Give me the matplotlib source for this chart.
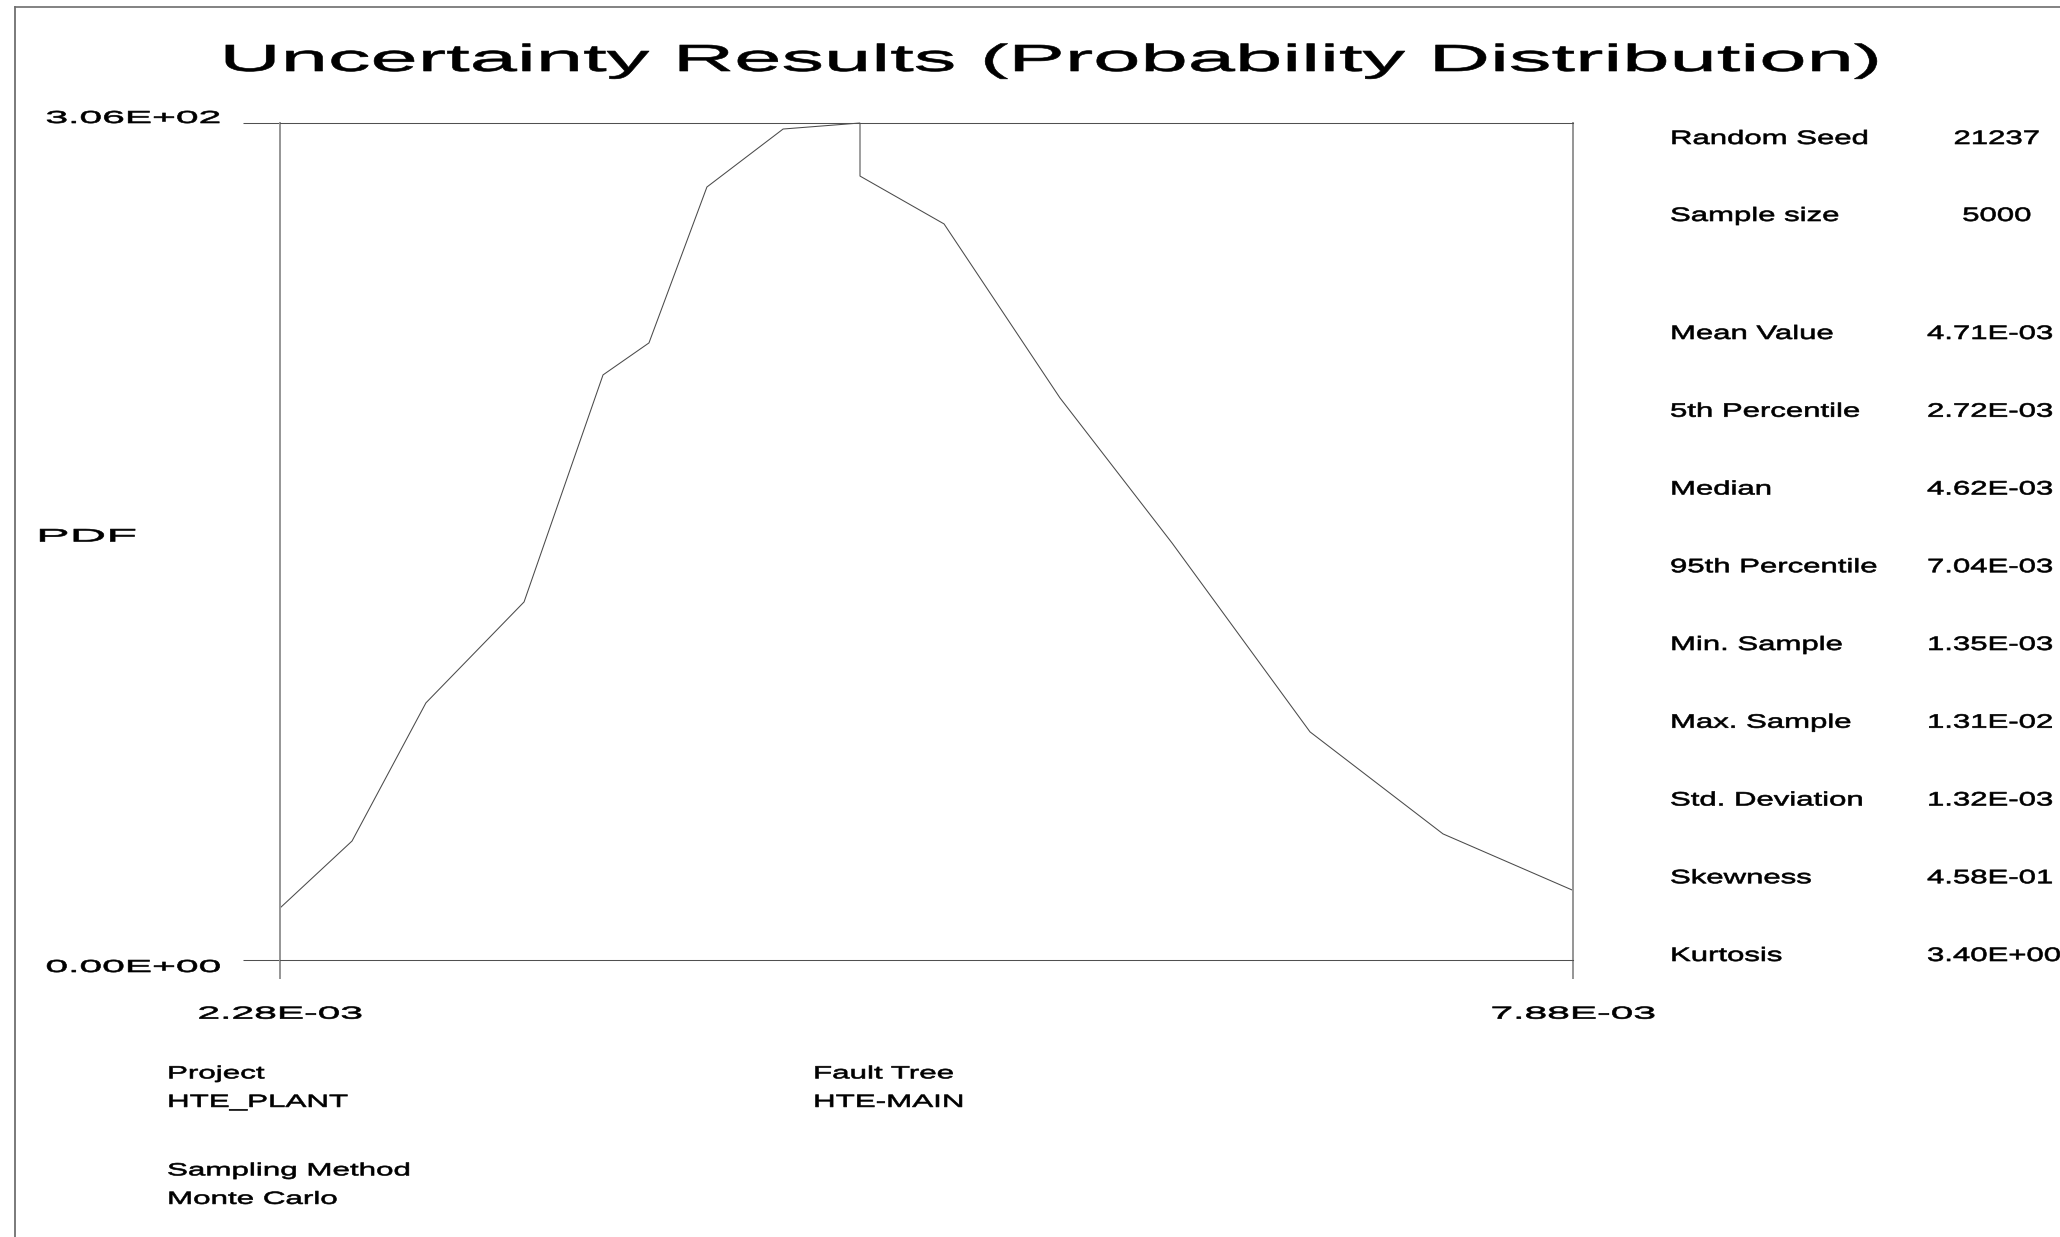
import matplotlib
matplotlib.use("Agg")
import matplotlib.pyplot as plt
from matplotlib.lines import Line2D
from matplotlib.patheffects import AbstractPathEffect
from matplotlib.transforms import Affine2D

plt.rcParams["font.family"] = ["Liberation Sans", "DejaVu Sans"]

# ---------------------------------------------------------------- data
pdf_x = [2.280e-3, 2.592e-3, 2.912e-3, 3.337e-3, 3.679e-3, 3.878e-3,
         4.129e-3, 4.459e-3, 4.792e-3, 4.792e-3, 5.156e-3, 5.658e-3,
         6.143e-3, 6.741e-3, 7.317e-3, 7.876e-3]
pdf_y = [19.0, 43.5, 94.0, 130.9, 213.9, 225.6,
         282.6, 303.8, 306.0, 286.6, 269.1, 205.5,
         152.5, 83.4, 46.1, 25.6]

x_ticks = [2.28e-3, 7.88e-3]
x_tick_labels = ["2.28E-03", "7.88E-03"]
y_ticks = [0.0, 306.0]
y_tick_labels = ["0.00E+00", "3.06E+02"]

run_names = ["Random Seed", "Sample size"]
run_values = ["21237", "5000"]

stat_names = ["Mean Value", "5th Percentile", "Median", "95th Percentile",
              "Min. Sample", "Max. Sample", "Std. Deviation", "Skewness",
              "Kurtosis"]
stat_values = ["4.71E-03", "2.72E-03", "4.62E-03", "7.04E-03", "1.35E-03",
               "1.31E-02", "1.32E-03", "4.58E-01", "3.40E+00"]

info_titles = ["Project", "Fault Tree", "Sampling Method"]
info_values = ["HTE_PLANT", "HTE-MAIN", "Monte Carlo"]

# ---------------------------------------------------------------- helpers
W, H = 2060, 1237


def fxy(x, y):
    """Pixel position (origin top-left) -> figure fraction."""
    return x / W, 1 - y / H


class Widen(AbstractPathEffect):
    """Draw a text's glyphs stretched horizontally about its anchor point,
    with a hairline outline to give the wide face a little more weight."""

    def __init__(self, text, factor, weight=0.45):
        super().__init__()
        self._text = text
        self._factor = factor
        self._weight = weight

    def draw_path(self, renderer, gc, tpath, affine, rgbFace=None):
        x0 = self._text.get_transform().transform(self._text.get_position())[0]
        stretch = (Affine2D().translate(-x0, 0)
                   .scale(self._factor, 1).translate(x0, 0))
        gc0 = renderer.new_gc()
        gc0.copy_properties(gc)
        if rgbFace is not None:
            gc0.set_foreground(rgbFace)
        gc0.set_linewidth(self._weight)
        renderer.draw_path(gc0, tpath, affine + stretch, rgbFace)
        gc0.restore()


def widen(text, factor):
    text.set_path_effects([Widen(text, factor)])
    return text


# ---------------------------------------------------------------- figure
fig = plt.figure(figsize=(W / 100, H / 100), dpi=100, facecolor="white")

ax_l, ax_r, ax_t, ax_b = 280, 1573, 123, 960
ax = fig.add_axes([ax_l / W, 1 - ax_b / H, (ax_r - ax_l) / W, (ax_b - ax_t) / H])
ax.set_facecolor("white")

ax.plot(pdf_x, pdf_y, color="#4a4a4a", lw=0.75, solid_joinstyle="miter",
        clip_on=False)
ax.set_xlim(x_ticks[0], x_ticks[-1])
ax.set_ylim(y_ticks[0], y_ticks[-1])

for side in ("top", "bottom"):
    ax.spines[side].set_color("#505050")
    ax.spines[side].set_linewidth(0.75)
for side in ("left", "right"):
    ax.spines[side].set_color("#959595")
    ax.spines[side].set_linewidth(1.4)

ax.set_xticks(x_ticks, x_tick_labels)
ax.set_yticks(y_ticks, y_tick_labels)
ax.tick_params(axis="y", direction="out", length=26.6, width=0.75,
               color="#505050", pad=15.8, labelsize=12.5, labelcolor="black")
ax.tick_params(axis="x", direction="out", length=13.7, width=1.4,
               color="#959595", pad=19.9, labelsize=12.5, labelcolor="black")

ylabels = ax.get_yticklabels()
ylabels[0].set_va("top")
ylabels[1].set_va("baseline")
for lab in ylabels + ax.get_xticklabels():
    widen(lab, 2.35)

ylab = ax.set_ylabel("PDF", rotation=0, ha="left", va="baseline", fontsize=13)
ax.yaxis.set_label_coords((36 - ax_l) / (ax_r - ax_l), 0.5)
widen(ylab, 2.8)

# ---------------------------------------------------------------- title
title = fig.suptitle("Uncertainty Results (Probability Distribution)",
                     x=1051 / W, y=1 - 71 / H, ha="center", va="baseline",
                     fontsize=27.2)
widen(title, 2.25)

# ---------------------------------------------------------------- statistics panel
label_x, value_x, count_x = 1670, 1927, 1997
row_y = [137, 214] + [332 + 77.75 * i for i in range(len(stat_names))]
for i, (name, val) in enumerate(zip(run_names, run_values)):
    widen(fig.text(*fxy(label_x, row_y[i] + 7), name, fontsize=14,
                   ha="left", va="baseline"), 1.6)
    widen(fig.text(*fxy(count_x, row_y[i] + 7), val, fontsize=14,
                   ha="center", va="baseline"), 1.6)
for i, (name, val) in enumerate(zip(stat_names, stat_values)):
    y = row_y[i + 2] + 7
    widen(fig.text(*fxy(label_x, y), name, fontsize=14,
                   ha="left", va="baseline"), 1.6)
    widen(fig.text(*fxy(value_x, y), val, fontsize=14,
                   ha="left", va="baseline"), 1.6)

# ---------------------------------------------------------------- run information
info_pos = [(167, 1072), (813, 1072), (167, 1169)]
for (x, y), head, val in zip(info_pos, info_titles, info_values):
    widen(fig.text(*fxy(x, y + 6.4), head, fontsize=12.75,
                   ha="left", va="baseline"), 1.77)
    widen(fig.text(*fxy(x, y + 28.5 + 6.4), val, fontsize=12.75,
                   ha="left", va="baseline"), 1.77)

# ---------------------------------------------------------------- page frame
fig.add_artist(Line2D([15 / W, 1.0], [1 - 7 / H, 1 - 7 / H],
                      transform=fig.transFigure, color="#606060", lw=1.1))
fig.add_artist(Line2D([15 / W, 15 / W], [1 - 7 / H, 0.0],
                      transform=fig.transFigure, color="#707070", lw=1.3))

fig.savefig("out.png", dpi=100, facecolor="white")
